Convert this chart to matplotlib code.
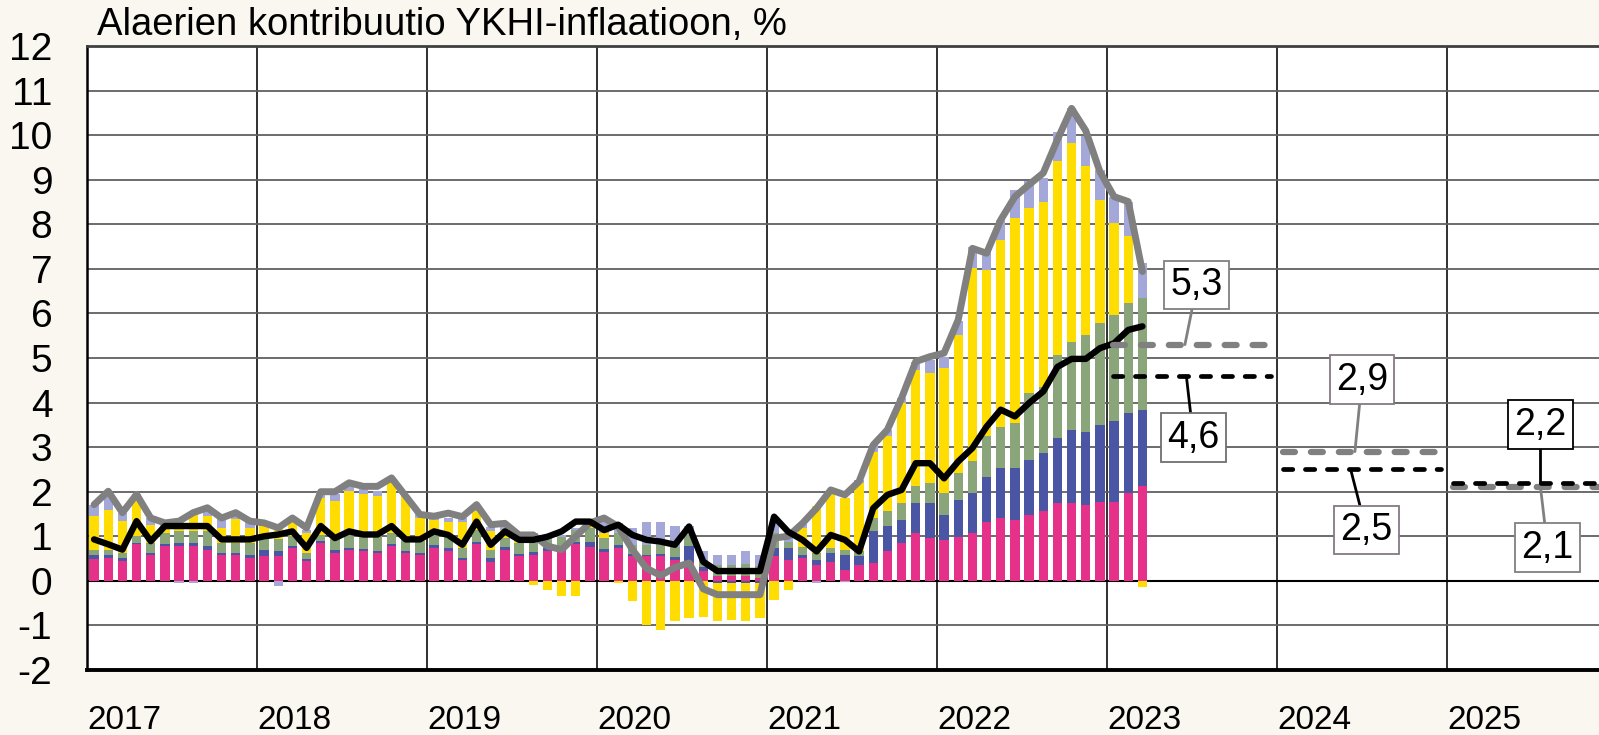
import numpy as np
import matplotlib.pyplot as plt

plt.rcParams['font.family'] = ['Liberation Sans', 'DejaVu Sans']
plt.rcParams['lines.scale_dashes'] = False

# monthly contributions, Jan 2017 - Mar 2023 (percentage points)
services = [0.48, 0.52, 0.44, 0.82, 0.59, 0.78, 0.78, 0.78, 0.70, 0.59, 0.59, 0.52,
            0.55, 0.55, 0.74, 0.44, 0.85, 0.63, 0.70, 0.67, 0.63, 0.78, 0.63, 0.59,
            0.73, 0.66, 0.47, 0.83, 0.43, 0.70, 0.55, 0.58, 0.66, 0.66, 0.83, 0.77,
            0.64, 0.73, 0.55, 0.55, 0.55, 0.47, 0.43, 0.21, 0.10, 0.10, 0.10, 0.06,
            0.55, 0.47, 0.51, 0.36, 0.43, 0.25, 0.36, 0.41, 0.66, 0.85, 1.07, 0.96,
            0.92, 0.99, 1.07, 1.33, 1.41, 1.37, 1.48, 1.56, 1.74, 1.74, 1.71, 1.78,
            1.78, 1.97, 2.12]
goods = [0.11, 0.05, 0.08, 0.04, 0.04, 0.04, 0.07, 0.07, 0.08, 0.04, 0.04, 0.07,
         0.15, 0.12, 0.04, 0.04, 0.04, 0.07, 0.04, 0.04, 0.04, 0.04, 0.04, 0.04,
         0.08, 0.07, 0.05, 0.04, 0.08, 0.07, 0.06, 0.06, 0.07, 0.07, 0.05, 0.11,
         0.07, 0.08, 0.06, 0.04, 0.06, 0.06, 0.36, 0.10, -0.05, -0.05, -0.05, -0.05,
         0.18, 0.26, 0.07, 0.11, 0.19, 0.33, 0.19, 0.70, 0.56, 0.52, 0.67, 0.78,
         0.56, 0.83, 0.90, 1.01, 1.12, 1.16, 1.24, 1.30, 1.46, 1.65, 1.64, 1.72,
         1.80, 1.79, 1.72]
proc_food = [0.11, 0.12, 0.11, 0.14, 0.22, 0.26, 0.26, 0.26, 0.33, 0.22, 0.22, 0.26,
             0.26, 0.26, 0.22, 0.15, 0.15, 0.23, 0.30, 0.30, 0.33, 0.26, 0.26, 0.26,
             0.22, 0.26, 0.21, 0.27, 0.19, 0.19, 0.24, 0.21, 0.19, 0.26, 0.26, 0.30,
             0.26, 0.26, 0.20, 0.22, 0.20, 0.24, 0.25, 0.15, 0.25, 0.25, 0.28, 0.28,
             0.35, 0.15, 0.19, 0.15, 0.11, 0.12, 0.11, 0.30, 0.34, 0.37, 0.38, 0.45,
             0.49, 0.60, 0.71, 0.90, 0.93, 1.01, 1.49, 1.50, 1.87, 1.98, 2.17, 2.28,
             2.39, 2.47, 2.50]
energy = [0.75, 0.89, 0.71, 0.79, 0.41, 0.15, 0.25, 0.42, 0.34, 0.34, 0.53, 0.34,
          0.27, 0.26, 0.34, 0.45, 0.82, 0.86, 0.97, 0.93, 0.90, 1.12, 0.97, 0.52,
          0.34, 0.34, 0.60, 0.42, 0.41, 0.18, 0.08, -0.09, -0.20, -0.34, -0.35, 0.05,
          0.10, -0.05, -0.46, -0.99, -1.11, -0.90, -0.84, -0.80, -0.86, -0.83, -0.86, -0.79,
          -0.43, -0.20, 0.41, 1.05, 1.24, 1.15, 1.53, 1.49, 1.68, 2.25, 2.61, 2.47,
          2.80, 3.10, 4.34, 3.74, 4.19, 4.60, 4.15, 4.15, 4.34, 4.45, 3.78, 2.77,
          2.06, 1.50, -0.13]
unproc_food = [0.26, 0.42, 0.19, 0.15, 0.15, 0.07, -0.04, -0.04, 0.17, 0.19, 0.13, 0.15,
               0.07, -0.12, 0.07, 0.07, 0.14, 0.15, 0.11, 0.11, 0.12, 0.05, 0.00, 0.08,
               0.05, 0.08, 0.07, 0.12, 0.10, 0.10, 0.10, 0.22, 0.04, 0.05, 0.05, 0.07,
               0.33, 0.22, 0.37, 0.50, 0.50, 0.45, 0.20, 0.20, 0.23, 0.23, 0.28, 0.24,
               0.22, 0.20, 0.10, -0.04, 0.07, -0.03, 0.08, 0.15, 0.15, 0.11, 0.19, 0.30,
               0.26, 0.30, 0.48, 0.41, 0.45, 0.63, 0.60, 0.52, 0.67, 0.78, 0.67, 0.67,
               0.59, 0.78, 0.79]
hicp = [1.71, 2.01, 1.53, 1.94, 1.41, 1.30, 1.34, 1.53, 1.64, 1.41, 1.53, 1.34,
        1.30, 1.19, 1.41, 1.19, 2.00, 2.00, 2.20, 2.12, 2.12, 2.31, 1.90, 1.49,
        1.45, 1.52, 1.44, 1.71, 1.26, 1.29, 1.03, 1.03, 0.78, 0.70, 1.00, 1.30,
        1.41, 1.22, 0.70, 0.28, 0.12, 0.30, 0.40, -0.18, -0.31, -0.31, -0.31, -0.31,
        0.96, 1.00, 1.29, 1.63, 2.04, 1.93, 2.23, 3.05, 3.39, 4.10, 4.92, 5.03,
        5.11, 5.86, 7.46, 7.35, 8.10, 8.62, 8.89, 9.15, 9.90, 10.60, 10.10, 9.18,
        8.62, 8.51, 6.94]
core = [0.93, 0.82, 0.70, 1.34, 0.89, 1.23, 1.23, 1.23, 1.23, 0.93, 0.93, 0.93,
        1.00, 1.04, 1.11, 0.74, 1.23, 0.96, 1.11, 1.04, 1.04, 1.23, 0.93, 0.93,
        1.11, 1.03, 0.81, 1.33, 0.81, 1.11, 0.92, 0.92, 0.99, 1.11, 1.33, 1.33,
        1.14, 1.26, 1.03, 0.92, 0.88, 0.81, 1.22, 0.43, 0.22, 0.22, 0.22, 0.22,
        1.44, 1.10, 0.92, 0.66, 1.03, 0.92, 0.66, 1.63, 1.93, 2.04, 2.64, 2.64,
        2.30, 2.68, 2.98, 3.46, 3.84, 3.69, 3.99, 4.25, 4.80, 4.98, 4.98, 5.22,
        5.33, 5.63, 5.71]

# projections (annual)
proj_years = [2023, 2024, 2025]
proj_hicp = [5.3, 2.9, 2.1]
proj_core = [4.6, 2.5, 2.2]

years = list(range(2017, 2026))

fig = plt.figure(figsize=(15.99, 7.35), dpi=100, facecolor='#FAF6F0')
ax = fig.add_axes([87/1599, 65/735, 1512/1599, 624/735])
ax.set_facecolor('white')

x = np.arange(len(hicp)) + 0.5
series = [services, goods, proc_food, energy, unproc_food]
colors = ['#E5318A', '#4A56A4', '#8AA57A', '#FFDD00', '#A3A8D8']
pos = np.zeros(len(x))
neg = np.zeros(len(x))
for vals, c in zip(series, colors):
    v = np.array(vals)
    base = np.where(v >= 0, pos, neg)
    ax.bar(x, v, width=0.66, bottom=base, color=c, linewidth=0, zorder=2)
    pos += np.clip(v, 0, None)
    neg += np.clip(v, None, 0)

ax.plot(x, hicp, color='#808080', lw=5, zorder=4, solid_capstyle='round', solid_joinstyle='round')
ax.plot(x, core, color='black', lw=4.6, zorder=5, solid_capstyle='round', solid_joinstyle='round')

for yr, g, k in zip(proj_years, proj_hicp, proj_core):
    x0 = (yr - 2017) * 12 + 0.4
    x1 = x0 + 11.2
    ax.plot([x0, x1], [g, g], color='#808080', lw=4.5, ls=(0, (8.6, 11.5)),
            dash_capstyle='round', zorder=6)
    ax.plot([x0, x1], [k, k], color='black', lw=3.4, ls=(0, (6.7, 9.1)),
            dash_capstyle='round', zorder=6)

# value labels with leader lines
labels = [('5,3', (77.5, 5.3), (78.35, 6.64), '#808080', '#808080'),
          ('4,6', (77.6, 4.6), (78.1, 3.21), 'black', '#707070'),
          ('2,9', (89.5, 2.9), (90.0, 4.51), '#808080', '#857a85'),
          ('2,5', (89.2, 2.5), (90.3, 1.14), 'black', '#857a85'),
          ('2,2', (102.6, 2.2), (102.6, 3.5), 'black', 'black'),
          ('2,1', (102.6, 2.1), (103.1, 0.74), '#808080', '#808080')]
for txt, xy, xytext, lc, ec in labels:
    ax.annotate(txt, xy=xy, xytext=xytext, ha='center', va='center', fontsize=27,
                bbox=dict(boxstyle='square,pad=0.17', fc='white', ec=ec, lw=1.3),
                arrowprops=dict(arrowstyle='-', color=lc, lw=2, shrinkA=0, shrinkB=0),
                zorder=7)

ax.set_xlim(0, 1512 / 170 * 12)
ax.set_ylim(-2, 12)
ax.set_yticks(range(-2, 13))
ax.set_yticklabels([str(v) for v in range(-2, 13)], fontsize=28)
ax.set_xticks([(y - 2017) * 12 for y in years])
ax.set_xticklabels([str(y) for y in years], fontsize=24, ha='left')
ax.tick_params(axis='both', length=0)
ax.tick_params(axis='y', pad=25)
ax.tick_params(axis='x', pad=25)

ax.grid(axis='y', color='#606060', lw=1.3, zorder=1)
ax.grid(axis='x', color='#202020', lw=1.3, zorder=1)
ax.set_axisbelow(True)
ax.axhline(0, color='black', lw=1.5, zorder=1)

ax.spines['right'].set_visible(False)
ax.spines['left'].set_linewidth(1.8)
ax.spines['top'].set_linewidth(2)
ax.spines['top'].set_color('#404040')
ax.spines['bottom'].set_linewidth(2.8)

fig.text(97/1599, 1 - 25/735, 'Alaerien kontribuutio YKHI-inflaatioon, %',
         fontsize=27.5, va='center', ha='left')

fig.savefig('out.png', dpi=100, facecolor=fig.get_facecolor())
